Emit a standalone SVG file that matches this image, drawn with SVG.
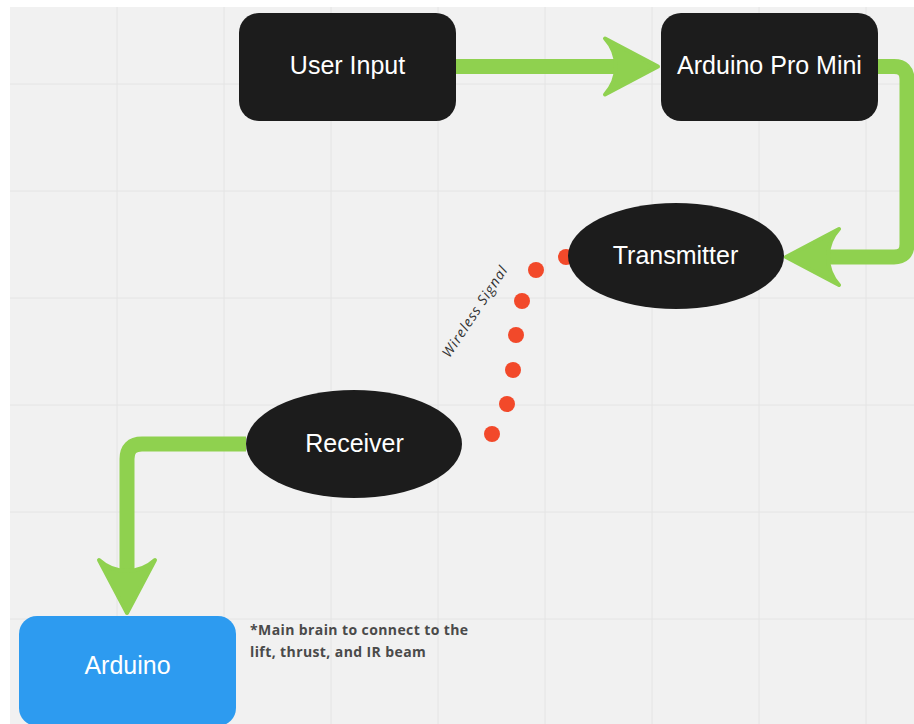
<svg xmlns="http://www.w3.org/2000/svg" width="914" height="724" viewBox="0 0 914 724">
  <style>
    .grid line { stroke: #e4e4e4; stroke-width: 1; }
    .node { fill: #1c1c1c; }
    .blue { fill: #2d9bf0; }
    .label { font-family: "Liberation Sans", Arial, sans-serif; font-size: 25px; fill: #ffffff; text-anchor: middle; }
    .conn { fill: none; stroke: #8fd14f; stroke-width: 15; stroke-linejoin: round; }
    .dot { fill: #f2492a; }
    .note { font-family: "Open Sans", "Liberation Sans", sans-serif; font-size: 14px; font-weight: bold; fill: #4a4a4a; letter-spacing: 0.4px; }
    .wl { font-family: "Open Sans", "Liberation Sans", sans-serif; font-size: 14px; fill: #333333; font-style: italic; letter-spacing: 1px; }
  </style>
  <defs>
    <marker id="arrow" viewBox="0 0 60 64" markerWidth="60" markerHeight="64" markerUnits="userSpaceOnUse" refX="15" refY="32" orient="auto" overflow="visible">
      <path d="M3,4 L56,32 L3,60 Q14,48 14,32 Q14,16 3,4 Z" fill="#8fd14f" stroke="#8fd14f" stroke-width="4" stroke-linejoin="round"/>
    </marker>
  </defs>

  <rect x="0" y="0" width="914" height="724" fill="#ffffff"/>
  <rect x="10" y="7" width="904" height="717" fill="#f1f1f1"/>
  <g class="grid">
    <line x1="117" y1="7" x2="117" y2="724"/>
    <line x1="224" y1="7" x2="224" y2="724"/>
    <line x1="331" y1="7" x2="331" y2="724"/>
    <line x1="438" y1="7" x2="438" y2="724"/>
    <line x1="545" y1="7" x2="545" y2="724"/>
    <line x1="652" y1="7" x2="652" y2="724"/>
    <line x1="759" y1="7" x2="759" y2="724"/>
    <line x1="866" y1="7" x2="866" y2="724"/>
    <line x1="10" y1="84" x2="914" y2="84"/>
    <line x1="10" y1="191" x2="914" y2="191"/>
    <line x1="10" y1="298" x2="914" y2="298"/>
    <line x1="10" y1="405" x2="914" y2="405"/>
    <line x1="10" y1="512" x2="914" y2="512"/>
    <line x1="10" y1="619" x2="914" y2="619"/>
  </g>

  <g id="connectors">
    <path class="conn" d="M456,66.5 H617" marker-end="url(#arrow)"/>
    <path class="conn" stroke-width="14" d="M877,66.5 H894 Q907,66.5 907,79.5 V244 Q907,257 894,257 H827" marker-end="url(#arrow)"/>
    <path class="conn" d="M246,444 H142 Q127,444 127,459 V572" marker-end="url(#arrow)"/>
    <g id="wireless">
      <circle class="dot" cx="566" cy="257" r="8"/>
      <circle class="dot" cx="536" cy="270" r="8"/>
      <circle class="dot" cx="522" cy="301" r="8"/>
      <circle class="dot" cx="516" cy="335" r="8"/>
      <circle class="dot" cx="513" cy="370" r="8"/>
      <circle class="dot" cx="507" cy="404" r="8"/>
      <circle class="dot" cx="492" cy="434" r="8"/>
      <text class="wl" transform="translate(479,314) rotate(-56.5)" text-anchor="middle">Wireless Signal</text>
    </g>
  </g>

  <g id="user-input">
    <rect class="node" x="239" y="13" width="217" height="108" rx="20"/>
    <text class="label" x="347.5" y="74">User Input</text>
  </g>
  <g id="arduino-pro-mini">
    <rect class="node" x="661" y="13" width="217" height="108" rx="20"/>
    <text class="label" x="769.5" y="74">Arduino Pro Mini</text>
  </g>
  <g id="transmitter">
    <ellipse class="node" cx="676" cy="256" rx="108" ry="53"/>
    <text class="label" x="675.5" y="264">Transmitter</text>
  </g>
  <g id="receiver">
    <ellipse class="node" cx="354" cy="444" rx="108" ry="54"/>
    <text class="label" x="354.5" y="452">Receiver</text>
  </g>
  <g id="arduino">
    <rect class="blue" x="19" y="616" width="217" height="110" rx="18"/>
    <text class="label" x="127.5" y="674">Arduino</text>
  </g>
  <g id="note">
    <text class="note" x="250" y="635">*Main brain to connect to the</text>
    <text class="note" x="250" y="657">lift, thrust, and IR beam</text>
  </g>
</svg>
